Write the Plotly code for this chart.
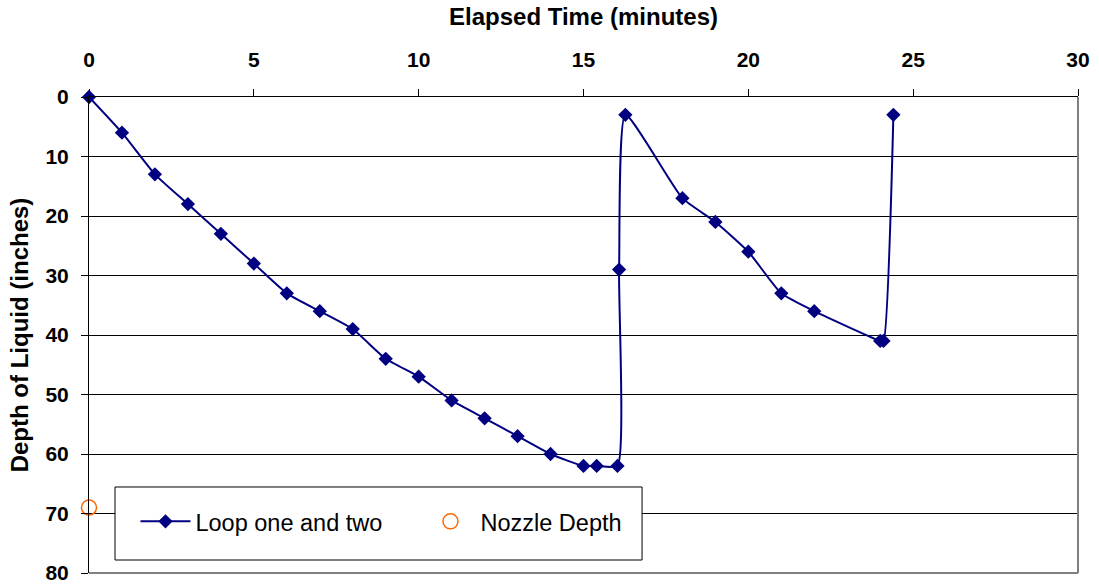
import plotly.graph_objects as go

# Liquid depth readings over two pump loops
elapsed_min = [0, 1, 2, 3, 4, 5, 6, 7, 8, 9, 10, 11, 12, 13, 14, 15, 15.4, 16.03,
               16.08, 16.27, 18, 19, 20, 21, 22, 24.0, 24.1, 24.4]
depth_in = [0, 6, 13, 18, 23, 28, 33, 36, 39, 44, 47, 51, 54, 57, 60, 62, 62, 62,
            29, 3, 17, 21, 26, 33, 36, 41, 41, 3]

# Nozzle position
nozzle_x = [0]
nozzle_y = [69]

x_ticks = [0, 5, 10, 15, 20, 25, 30]
y_ticks = [0, 10, 20, 30, 40, 50, 60, 70, 80]

FONT = "Liberation Sans, Arial, sans-serif"
NAVY = "#000080"
ORANGE = "#FF6600"

fig = go.Figure()
fig.add_trace(go.Scatter(
    x=elapsed_min, y=depth_in, name="Loop one and two",
    mode="lines+markers",
    line=dict(color=NAVY, width=2, shape="spline", smoothing=0.5),
    marker=dict(symbol="diamond", size=11, color=NAVY),
    cliponaxis=False,
))
fig.add_trace(go.Scatter(
    x=nozzle_x, y=nozzle_y, name="Nozzle Depth",
    mode="markers",
    marker=dict(symbol="circle-open", size=15, color=ORANGE, line=dict(width=1.5, color=ORANGE)),
    cliponaxis=False,
))

fig.update_layout(
    width=1099, height=586,
    margin=dict(l=89, r=21, t=97, b=13, autoexpand=False),
    paper_bgcolor="white", plot_bgcolor="white",
    font=dict(family=FONT, color="black"),
    showlegend=True,
    legend=dict(
        orientation="h", x=0.047, y=0.108, xanchor="left", yanchor="middle",
        bgcolor="rgba(0,0,0,0)", borderwidth=0,
        font=dict(family=FONT, size=23.5, color="black"),
        itemwidth=50, entrywidth=220,
    ),
    xaxis=dict(
        side="top", range=[0, 30], tickvals=x_ticks, automargin=False,
        ticks="outside", ticklen=7, tickcolor="black", tickwidth=1,
        showline=True, linecolor="black", linewidth=1,
        showgrid=False, zeroline=False,
        tickfont=dict(family=FONT, size=21, weight="bold"),
        ticklabelstandoff=14,
        title=dict(text="Elapsed Time (minutes)", standoff=15,
                   font=dict(family=FONT, size=24, weight="bold")),
    ),
    yaxis=dict(
        range=[80, 0], tickvals=y_ticks, automargin=False,
        ticks="outside", ticklen=7, tickcolor="black", tickwidth=1,
        showline=True, linecolor="black", linewidth=1,
        showgrid=True, gridcolor="black", gridwidth=1, zeroline=False,
        tickfont=dict(family=FONT, size=21, weight="bold"),
        ticklabelstandoff=8,
        title=dict(text="Depth of Liquid (inches)", standoff=10,
                   font=dict(family=FONT, size=24, weight="bold")),
    ),
    shapes=[
        # plot-area frame on the right and bottom
        dict(type="line", xref="paper", yref="paper", x0=1, x1=1, y0=0, y1=1,
             line=dict(color="#808080", width=2)),
        dict(type="line", xref="paper", yref="paper", x0=0, x1=1, y0=0, y1=0,
             line=dict(color="#808080", width=2)),
        # legend box
        dict(type="rect", xref="paper", yref="paper", x0=0.0263, x1=0.5592,
             y0=0.0273, y1=0.1807, fillcolor="white",
             line=dict(color="black", width=1), layer="above"),
    ],
)

fig.write_html("out.html")
